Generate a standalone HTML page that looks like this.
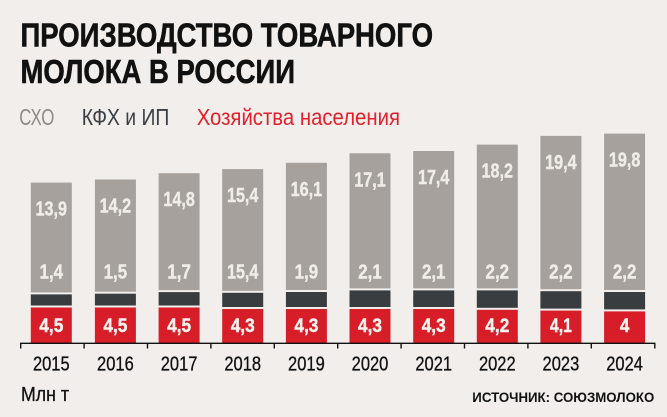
<!DOCTYPE html>
<html><head><meta charset="utf-8"><style>
html,body{margin:0;padding:0;background:#f1eeeb;}
svg{display:block;}
</style></head><body>
<svg width="667" height="417" viewBox="0 0 667 417" xmlns="http://www.w3.org/2000/svg" font-family="'Liberation Sans', sans-serif">
<rect width="667" height="417" fill="#f1eeeb"/>
<g fill="#111" stroke="#111" stroke-width="0.6" font-size="33" font-weight="bold">
<text x="20.5" y="46.7" textLength="412.5" lengthAdjust="spacingAndGlyphs">ПРОИЗВОДСТВО ТОВАРНОГО</text>
<text x="20.5" y="83" textLength="274.5" lengthAdjust="spacingAndGlyphs">МОЛОКА В РОССИИ</text>
</g>
<text x="19.3" y="125" font-size="23" fill="#8d8a87" textLength="35" lengthAdjust="spacingAndGlyphs">СХО</text>
<text x="81.7" y="125" font-size="23" fill="#3a3d42" textLength="87.6" lengthAdjust="spacingAndGlyphs">КФХ и ИП</text>
<text x="196.7" y="125" font-size="23" fill="#e2202b" textLength="203.3" lengthAdjust="spacingAndGlyphs">Хозяйства населения</text>

<rect x="30.8" y="307.5" width="41" height="35.8" fill="#d71e28"/>
<rect x="30.8" y="294.4" width="41" height="11.1" fill="#3a3d40"/>
<rect x="30.8" y="182.6" width="41" height="109.8" fill="#a6a19d"/>
<rect x="94.9" y="307.5" width="41" height="35.8" fill="#d71e28"/>
<rect x="94.9" y="293.7" width="41" height="11.8" fill="#3a3d40"/>
<rect x="94.9" y="179.5" width="41" height="112.2" fill="#a6a19d"/>
<rect x="158.6" y="307.5" width="41" height="35.8" fill="#d71e28"/>
<rect x="158.6" y="292.1" width="41" height="13.4" fill="#3a3d40"/>
<rect x="158.6" y="173.2" width="41" height="116.9" fill="#a6a19d"/>
<rect x="222.2" y="309" width="41" height="34.3" fill="#d71e28"/>
<rect x="222.2" y="292.8" width="41" height="14.2" fill="#3a3d40"/>
<rect x="222.2" y="169.1" width="41" height="121.7" fill="#a6a19d"/>
<rect x="285.9" y="309" width="41" height="34.3" fill="#d71e28"/>
<rect x="285.9" y="292" width="41" height="15" fill="#3a3d40"/>
<rect x="285.9" y="162.8" width="41" height="127.2" fill="#a6a19d"/>
<rect x="349.5" y="309" width="41" height="34.3" fill="#d71e28"/>
<rect x="349.5" y="290.4" width="41" height="16.6" fill="#3a3d40"/>
<rect x="349.5" y="153.3" width="41" height="135.1" fill="#a6a19d"/>
<rect x="413.2" y="309" width="41" height="34.3" fill="#d71e28"/>
<rect x="413.2" y="290.4" width="41" height="16.6" fill="#3a3d40"/>
<rect x="413.2" y="151" width="41" height="137.4" fill="#a6a19d"/>
<rect x="476.8" y="309.8" width="41" height="33.5" fill="#d71e28"/>
<rect x="476.8" y="290.4" width="41" height="17.4" fill="#3a3d40"/>
<rect x="476.8" y="144.6" width="41" height="143.8" fill="#a6a19d"/>
<rect x="540.4" y="310.6" width="41" height="32.7" fill="#d71e28"/>
<rect x="540.4" y="291.2" width="41" height="17.4" fill="#3a3d40"/>
<rect x="540.4" y="135.9" width="41" height="153.3" fill="#a6a19d"/>
<rect x="604.1" y="311.4" width="41" height="31.9" fill="#d71e28"/>
<rect x="604.1" y="292" width="41" height="17.4" fill="#3a3d40"/>
<rect x="604.1" y="133.6" width="41" height="156.4" fill="#a6a19d"/>

<line x1="20" y1="343.3" x2="655.5" y2="343.3" stroke="#111" stroke-width="1.4"/>
<g stroke="#111" stroke-width="1.4">
<line x1="20.7" y1="343" x2="20.7" y2="348.5"/>
<line x1="84.1" y1="343" x2="84.1" y2="348.5"/>
<line x1="147.5" y1="343" x2="147.5" y2="348.5"/>
<line x1="210.9" y1="343" x2="210.9" y2="348.5"/>
<line x1="274.3" y1="343" x2="274.3" y2="348.5"/>
<line x1="337.7" y1="343" x2="337.7" y2="348.5"/>
<line x1="401.1" y1="343" x2="401.1" y2="348.5"/>
<line x1="464.5" y1="343" x2="464.5" y2="348.5"/>
<line x1="527.9" y1="343" x2="527.9" y2="348.5"/>
<line x1="591.3" y1="343" x2="591.3" y2="348.5"/>
<line x1="654.8" y1="343" x2="654.8" y2="348.5"/>
</g>

<g font-size="20" font-weight="bold" fill="#f0ede9" stroke="#f0ede9" stroke-width="0.4" text-anchor="middle">
<text x="51.3" y="215.6" textLength="31.5" lengthAdjust="spacingAndGlyphs">13,9</text>
<text x="115.4" y="212.5" textLength="31.5" lengthAdjust="spacingAndGlyphs">14,2</text>
<text x="179.1" y="206.2" textLength="31.5" lengthAdjust="spacingAndGlyphs">14,8</text>
<text x="242.7" y="202.1" textLength="31.5" lengthAdjust="spacingAndGlyphs">15,4</text>
<text x="306.4" y="195.8" textLength="31.5" lengthAdjust="spacingAndGlyphs">16,1</text>
<text x="370" y="186.3" textLength="31.5" lengthAdjust="spacingAndGlyphs">17,1</text>
<text x="433.7" y="184" textLength="31.5" lengthAdjust="spacingAndGlyphs">17,4</text>
<text x="497.3" y="177.6" textLength="31.5" lengthAdjust="spacingAndGlyphs">18,2</text>
<text x="560.9" y="168.9" textLength="31.5" lengthAdjust="spacingAndGlyphs">19,4</text>
<text x="624.6" y="166.6" textLength="31.5" lengthAdjust="spacingAndGlyphs">19,8</text>
<text x="51.3" y="278.3" textLength="23.5" lengthAdjust="spacingAndGlyphs">1,4</text>
<text x="115.4" y="278.3" textLength="23.5" lengthAdjust="spacingAndGlyphs">1,5</text>
<text x="179.1" y="278.3" textLength="23.5" lengthAdjust="spacingAndGlyphs">1,7</text>
<text x="242.7" y="278.3" textLength="31.5" lengthAdjust="spacingAndGlyphs">15,4</text>
<text x="306.4" y="278.3" textLength="23.5" lengthAdjust="spacingAndGlyphs">1,9</text>
<text x="370" y="278.3" textLength="23.5" lengthAdjust="spacingAndGlyphs">2,1</text>
<text x="433.7" y="278.3" textLength="23.5" lengthAdjust="spacingAndGlyphs">2,1</text>
<text x="497.3" y="278.5" textLength="23.5" lengthAdjust="spacingAndGlyphs">2,2</text>
<text x="560.9" y="278.5" textLength="23.5" lengthAdjust="spacingAndGlyphs">2,2</text>
<text x="624.6" y="278.5" textLength="23.5" lengthAdjust="spacingAndGlyphs">2,2</text>
</g>
<g font-size="19" font-weight="bold" fill="#f5f1ee" stroke="#f5f1ee" stroke-width="0.4" text-anchor="middle">
<text x="51.3" y="332" textLength="24" lengthAdjust="spacingAndGlyphs">4,5</text>
<text x="115.4" y="332" textLength="24" lengthAdjust="spacingAndGlyphs">4,5</text>
<text x="179.1" y="332" textLength="24" lengthAdjust="spacingAndGlyphs">4,5</text>
<text x="242.7" y="332" textLength="24" lengthAdjust="spacingAndGlyphs">4,3</text>
<text x="306.4" y="332" textLength="24" lengthAdjust="spacingAndGlyphs">4,3</text>
<text x="370" y="332" textLength="24" lengthAdjust="spacingAndGlyphs">4,3</text>
<text x="433.7" y="332" textLength="24" lengthAdjust="spacingAndGlyphs">4,3</text>
<text x="497.3" y="332" textLength="24" lengthAdjust="spacingAndGlyphs">4,2</text>
<text x="560.9" y="332" textLength="22" lengthAdjust="spacingAndGlyphs">4,1</text>
<text x="624.6" y="332" textLength="9.5" lengthAdjust="spacingAndGlyphs">4</text>
</g>
<g font-size="20" fill="#111" stroke="#111" stroke-width="0.3" text-anchor="middle">
<text x="51.3" y="370.7" textLength="36.7" lengthAdjust="spacingAndGlyphs">2015</text>
<text x="115.4" y="370.7" textLength="36.7" lengthAdjust="spacingAndGlyphs">2016</text>
<text x="179.1" y="370.7" textLength="36.7" lengthAdjust="spacingAndGlyphs">2017</text>
<text x="242.7" y="370.7" textLength="36.7" lengthAdjust="spacingAndGlyphs">2018</text>
<text x="306.4" y="370.7" textLength="36.7" lengthAdjust="spacingAndGlyphs">2019</text>
<text x="370" y="370.7" textLength="36.7" lengthAdjust="spacingAndGlyphs">2020</text>
<text x="433.7" y="370.7" textLength="36.7" lengthAdjust="spacingAndGlyphs">2021</text>
<text x="497.3" y="370.7" textLength="36.7" lengthAdjust="spacingAndGlyphs">2022</text>
<text x="560.9" y="370.7" textLength="36.7" lengthAdjust="spacingAndGlyphs">2023</text>
<text x="624.6" y="370.7" textLength="36.7" lengthAdjust="spacingAndGlyphs">2024</text>
</g>
<text x="21" y="401" font-size="20" fill="#111" stroke="#111" stroke-width="0.3" textLength="48" lengthAdjust="spacingAndGlyphs">Млн т</text>
<text x="472.3" y="402" font-size="14" font-weight="bold" fill="#111" textLength="182" lengthAdjust="spacingAndGlyphs">ИСТОЧНИК: СОЮЗМОЛОКО</text>
</svg>
</body></html>
